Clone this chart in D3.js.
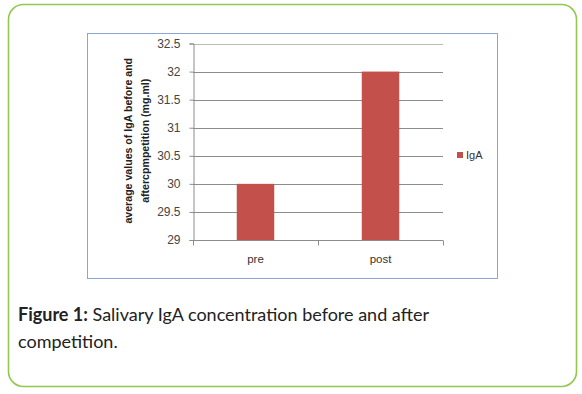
<!DOCTYPE html>
<html>
<head>
<meta charset="utf-8">
<script src="https://cdn.jsdelivr.net/npm/d3@7"></script>
<style>
  html, body { margin: 0; padding: 0; background: #fff; }
  svg { display: block; }
</style>
</head>
<body>
<div id="chart"></div>
<script>
// chart data
const categories = ['pre', 'post'];
const igaValues = [30, 32];
const seriesName = 'IgA';
const yTicks = [29, 29.5, 30, 30.5, 31, 31.5, 32, 32.5];
const yTickLabels = ['29', '29.5', '30', '30.5', '31', '31.5', '32', '32.5'];
const yTitleLines = ['average values of IgA before and', 'aftercpmpetition (mg.ml)'];

const width = 582, height = 394;
const svg = d3.select('#chart').append('svg')
    .attr('width', width)
    .attr('height', height);

// outer green frame
svg.append('rect')
    .attr('x', 8.5).attr('y', 4.5)
    .attr('width', 568).attr('height', 382)
    .attr('rx', 15).attr('ry', 15)
    .attr('fill', 'none')
    .attr('stroke', '#92c84e')
    .attr('stroke-width', 1.6);

// chart area border (blue)
svg.append('rect')
    .attr('x', 87.5).attr('y', 33.5)
    .attr('width', 410).attr('height', 245)
    .attr('fill', '#fff')
    .attr('stroke', '#8aa6d6')
    .attr('stroke-width', 1);

const plot = { left: 193, right: 443, top: 43.5, bottom: 240 };

const x = d3.scaleBand()
    .domain(categories)
    .range([plot.left, plot.right])
    .paddingInner(0.7)
    .paddingOuter(0.35);

const y = d3.scaleLinear()
    .domain([29, 32.5])
    .range([plot.bottom, plot.top]);

// gridlines
svg.append('g')
    .selectAll('line')
    .data(yTicks)
    .join('line')
    .attr('x1', plot.left)
    .attr('x2', plot.right)
    .attr('y1', d => Math.round(y(d)) + 0.5)
    .attr('y2', d => Math.round(y(d)) + 0.5)
    .attr('stroke', d => d === 32.5 ? '#b9bdb4' : '#8c8c8c')
    .attr('stroke-width', 1);

// bars
svg.append('g')
    .selectAll('rect')
    .data(igaValues)
    .join('rect')
    .attr('x', (d, i) => x(categories[i]))
    .attr('y', d => y(d))
    .attr('width', x.bandwidth())
    .attr('height', d => plot.bottom - y(d))
    .attr('fill', '#c4504c');

// y axis
const yAxis = d3.axisLeft(y)
    .tickValues(yTicks)
    .tickFormat((d, i) => yTickLabels[i])
    .tickSize(4)
    .tickPadding(9);

const gy = svg.append('g')
    .attr('transform', `translate(${plot.left + 0.5},0)`)
    .call(yAxis);
gy.selectAll('path, line').attr('stroke', '#8c8c8c');
gy.selectAll('text')
    .attr('font-family', 'Liberation Sans, Arial, sans-serif')
    .attr('font-size', 12)
    .attr('fill', '#444');

// x axis (category ticks between bands)
const gx = svg.append('g')
    .attr('transform', `translate(0,${plot.bottom + 0.5})`);
gx.append('line')
    .attr('x1', plot.left).attr('x2', plot.right)
    .attr('stroke', '#8c8c8c');
gx.selectAll('.tick')
    .data([plot.left, (plot.left + plot.right) / 2, plot.right])
    .join('line')
    .attr('class', 'tick')
    .attr('x1', d => Math.round(d) + 0.5)
    .attr('x2', d => Math.round(d) + 0.5)
    .attr('y1', 0).attr('y2', 5)
    .attr('stroke', '#8c8c8c');
gx.selectAll('text')
    .data(categories)
    .join('text')
    .attr('x', d => x(d) + x.bandwidth() / 2)
    .attr('y', 22)
    .attr('text-anchor', 'middle')
    .attr('font-family', 'Liberation Sans, Arial, sans-serif')
    .attr('font-size', 11.5)
    .attr('fill', '#333')
    .text(d => d);

// y axis title, two lines, rotated
const title = svg.append('text')
    .attr('transform', `translate(132,${(plot.top + plot.bottom) / 2 - 1}) rotate(-90)`)
    .attr('text-anchor', 'middle')
    .attr('font-family', 'Liberation Sans, Arial, sans-serif')
    .attr('font-size', 10.6)
    .attr('font-weight', 'bold')
    .attr('fill', '#222');
title.selectAll('tspan')
    .data(yTitleLines)
    .join('tspan')
    .attr('x', 0)
    .attr('dy', (d, i) => i === 0 ? 0 : 17)
    .text(d => d);

// legend
const legend = svg.append('g').attr('transform', 'translate(457,152)');
legend.append('rect')
    .attr('width', 6).attr('height', 6)
    .attr('fill', '#c4504c');
legend.append('text')
    .attr('x', 9).attr('y', 7)
    .attr('font-family', 'Liberation Sans, Arial, sans-serif')
    .attr('font-size', 11)
    .attr('fill', '#333')
    .text(seriesName);

// caption
const caption = svg.append('g')
    .attr('font-family', 'Lato, Open Sans, sans-serif')
    .attr('font-size', 18)
    .attr('fill', '#222');
const line1 = caption.append('text').attr('x', 18).attr('y', 321);
line1.append('tspan').attr('font-weight', 'bold').text('Figure 1:');
line1.append('tspan').text(' Salivary IgA concentration before and after');
caption.append('text').attr('x', 18).attr('y', 348).text('competition.');
</script>
</body>
</html>
